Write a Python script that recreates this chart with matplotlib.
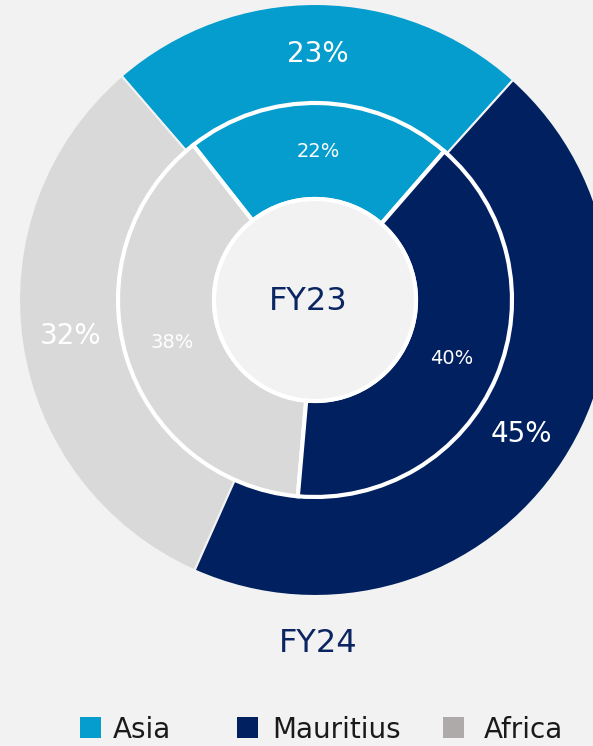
#!/usr/bin/env python3
"""Nested donut: regional split FY23 (inner) vs FY24 (outer)."""

import matplotlib

matplotlib.use("Agg")
import matplotlib.pyplot as plt
from matplotlib.patches import Circle, Rectangle

# data
REGIONS = ["Asia", "Africa", "Mauritius"]
FY24 = [23, 32, 45]
FY23 = [22, 38, 40]
LEGEND_ORDER = ["Asia", "Mauritius", "Africa"]

RING_COLORS = {"Asia": "#049dce", "Mauritius": "#002060", "Africa": "#d9d9d9"}
LEGEND_COLORS = {"Asia": "#049dce", "Mauritius": "#002060", "Africa": "#aeaaaa"}
BG = "#f2f2f2"
NAVY = "#0b2562"

W, H = 593, 746
CX, CY = 315, H - 300
R_OUT, R_MID, R_IN = 296, 197, 101

# legend layout (left edge of swatch, left edge of text), pixels
LEGEND_X = [(80, 113), (237, 272), (443, 484)]
SWATCH = 21
LEGEND_Y = 2

plt.rcParams["font.family"] = ["DejaVu Sans"]

fig = plt.figure(figsize=(W / 100, H / 100), dpi=100, facecolor=BG)
ax = fig.add_axes([0, 0, 1, 1])

colors = [RING_COLORS[r] for r in REGIONS]

ax.pie(
    FY24,
    colors=colors,
    startangle=48,
    counterclock=True,
    radius=R_OUT,
    center=(CX, CY),
    autopct="%d%%",
    pctdistance=(R_OUT + R_MID) / 2 / R_OUT,
    textprops=dict(color="white", fontsize=20),
    wedgeprops=dict(width=R_OUT - R_MID, edgecolor=BG, linewidth=1.5),
    frame=True,
)

ax.pie(
    FY23,
    colors=colors,
    startangle=49,
    counterclock=True,
    radius=R_MID,
    center=(CX, CY),
    autopct="%d%%",
    pctdistance=(R_MID + R_IN) / 2 / R_MID,
    textprops=dict(color="white", fontsize=14),
    wedgeprops=dict(width=R_MID - R_IN, edgecolor="white", linewidth=3),
    frame=True,
)

ax.add_patch(Circle((CX, CY), R_IN, facecolor=BG, edgecolor="white", linewidth=3, zorder=5))
ax.text(CX - 7, CY - 2, "FY23", ha="center", va="center", fontsize=23, color=NAVY, zorder=6)
ax.text(318, H - 644, "FY24", ha="center", va="center", fontsize=23, color=NAVY)

# legend drawn by hand to keep the uneven spacing of the original
for name, (sx, tx) in zip(LEGEND_ORDER, LEGEND_X):
    ax.add_patch(Rectangle((sx, LEGEND_Y + 6), SWATCH, SWATCH, facecolor=LEGEND_COLORS[name],
                           edgecolor="none", clip_on=False))
    ax.text(tx, LEGEND_Y, name, ha="left", va="bottom", fontsize=20, color="#1a1a1a")

ax.set_xlim(0, W)
ax.set_ylim(0, H)
ax.set_aspect("equal")
ax.axis("off")

fig.savefig("out.png", dpi=100, facecolor=BG)
